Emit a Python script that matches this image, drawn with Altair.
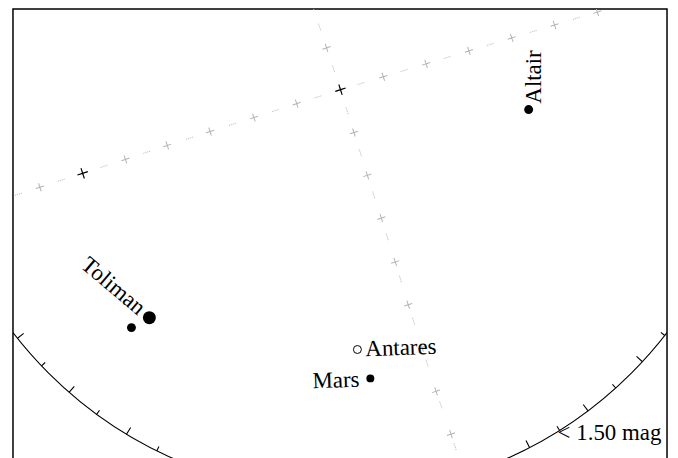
import math
import altair as alt
import pandas as pd

# ---- chart coordinate frame (projected sky, chart units) ----
X_DOMAIN = [13, 670]
Y_DOMAIN = [8, 478]

# great circle 1 (shallow, rising to the right): grid crosses along it
gc1_x = [-3, 40, 83, 126, 168, 211, 255, 298, 342, 385, 428, 471, 514, 557, 600, 643]
gc1_y = [201, 187, 173, 159, 145, 131, 117, 103, 89, 76, 63, 50, 37, 24, 11, -2]

# great circle 2 (steep): grid crosses along it
gc2_x = [314, 328, 342, 355.5, 369, 383, 397, 410, 424, 438, 453, 467]
gc2_y = [5, 47, 89, 132, 175, 218, 262, 305, 348, 392, 435, 478]

# black reference markers
marker_x = [83, 342]
marker_y = [173, 89]

# stars / planets
star_names = ["Toliman", "Hadar", "Antares", "Mars", "Altair"]
star_x = [150, 132, 359, 372, 531]
star_y = [318, 328, 350, 379, 109]
star_mag = [-0.27, 0.61, 1.06, 0.90, 0.77]
star_open = [False, False, True, False, False]

# field edge (circle) and its ticks
edge_cx, edge_cy, edge_r = 341.5, 81.0, 414.0
tick_angle = [26.4, 31.2, 36.2, 41.1, 46.4, 51.5,
              -27.4, -32.2, -37.0, -42.0, -47.2, -52.0]
tick_long = [False, True, False, True, False, True,
             True, False, True, False, True, False]
edge_label = "< 1.50 mag"
edge_label_angle = -32.2

# ---- tables ----
gc1 = pd.DataFrame({"x": gc1_x, "y": gc1_y, "i": range(len(gc1_x))})
gc2 = pd.DataFrame({"x": gc2_x, "y": gc2_y, "i": range(len(gc2_x))})
markers = pd.DataFrame({"x": marker_x, "y": marker_y})
stars = pd.DataFrame({"name": star_names, "x": star_x, "y": star_y,
                      "mag": star_mag, "open": star_open})
edge = pd.DataFrame({"x": [edge_cx], "y": [edge_cy]})

rows = []
for a, lg in zip(tick_angle, tick_long):
    t = math.radians(a)
    L = 8 if lg else 5
    rows.append({
        "x": edge_cx - edge_r * math.sin(t), "y": edge_cy + edge_r * math.cos(t),
        "x2": edge_cx - (edge_r - L) * math.sin(t), "y2": edge_cy + (edge_r - L) * math.cos(t),
    })
ticks = pd.DataFrame(rows)
tl = math.radians(edge_label_angle)
edge_lab = pd.DataFrame({"x": [edge_cx - edge_r * math.sin(tl)],
                         "y": [edge_cy + edge_r * math.cos(tl)],
                         "t": [edge_label]})

xs = alt.Scale(domain=X_DOMAIN, nice=False, zero=False)
ys = alt.Scale(domain=Y_DOMAIN, nice=False, zero=False, reverse=True)
X = alt.X("x:Q", scale=xs, axis=None)
Y = alt.Y("y:Q", scale=ys, axis=None)

CROSS = "M-1,0L1,0M0,-1L0,1"
GRID = "#b3b3b3"
FONT = "Liberation Serif"
FS = 23

def gc_layers(df, period):
    dash = 7
    off = period - (period / 2 - dash / 2)
    pattern = [1, 1, 1, 1, 1, 1, 1, period - dash]
    line = alt.Chart(df).mark_line(stroke=GRID, strokeWidth=1, strokeDash=pattern,
                                   strokeDashOffset=off, clip=True).encode(x=X, y=Y, order="i:Q")
    pts = alt.Chart(df).mark_point(shape=CROSS, size=72, filled=False, stroke=GRID,
                                   strokeWidth=1, opacity=1, angle=342, clip=True).encode(x=X, y=Y)
    return [line, pts]

layers = []
layers += gc_layers(gc1, 45.2)
layers += gc_layers(gc2, 44.3)

layers.append(alt.Chart(markers).mark_point(shape=CROSS, size=121, filled=False, stroke="black",
                                            strokeWidth=1.1, opacity=1, angle=342).encode(x=X, y=Y))

layers.append(alt.Chart(edge).mark_point(shape="circle", size=(2 * edge_r) ** 2, filled=False,
                                         stroke="black", strokeWidth=1.1, opacity=1, clip=True)
              .encode(x=X, y=Y))
layers.append(alt.Chart(ticks).mark_rule(stroke="black", strokeWidth=1.1, clip=True)
              .encode(x=X, y=Y, x2="x2:Q", y2="y2:Q"))
layers.append(alt.Chart(edge_lab).mark_text(font=FONT, fontSize=FS, align="left", baseline="middle",
                                            dx=-2, dy=3, color="black").encode(x=X, y=Y, text="t:N"))

size_scale = alt.Scale(type="threshold", domain=[0, 0.8], range=[169, 81, 64])
layers.append(alt.Chart(stars).transform_filter("!datum.open")
              .mark_point(shape="circle", filled=True, color="black", opacity=1)
              .encode(x=X, y=Y, size=alt.Size("mag:Q", scale=size_scale, legend=None)))
layers.append(alt.Chart(stars).transform_filter("datum.open")
              .mark_point(shape="circle", filled=False, stroke="black", strokeWidth=1, opacity=1)
              .encode(x=X, y=Y, size=alt.Size("mag:Q", scale=size_scale, legend=None)))

def label(name, **kw):
    return (alt.Chart(stars).transform_filter(alt.datum.name == name)
            .mark_text(font=FONT, fontSize=FS, color="black", **kw)
            .encode(x=X, y=Y, text="name:N"))

layers.append(label("Toliman", angle=40, align="right", baseline="middle", dx=-10, dy=-1))
layers.append(label("Antares", angle=358, align="left", baseline="middle", dx=8, dy=0))
layers.append(label("Mars", angle=358, align="right", baseline="middle", dx=-11, dy=1))
layers.append(label("Altair", angle=270, align="left", baseline="middle", dx=6, dy=5))

chart = alt.layer(*layers).properties(
    width=657, height=470,
    autosize=alt.AutoSizeParams(type="none"),
    padding={"left": 5, "top": 0, "right": 3, "bottom": 0},
).configure_view(stroke="black", strokeWidth=1.5)

chart.save("out.html", embed_options={"renderer": "svg", "actions": False})
